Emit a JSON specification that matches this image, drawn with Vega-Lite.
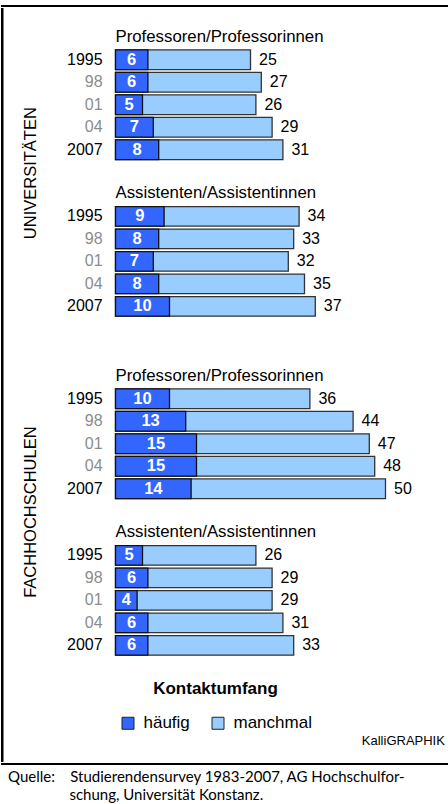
{
  "$schema": "https://vega.github.io/schema/vega-lite/v6.json",
  "padding": {"left": 0, "top": 4, "right": 0, "bottom": 0},
  "background": "white",
  "config": {
    "font": "Liberation Sans",
    "view": {"stroke": null},
    "title": {"fontWeight": "normal", "color": "black", "font": "Liberation Sans"},
    "legend": {
      "direction": "horizontal",
      "titleAnchor": "middle",
      "titleFontSize": 17,
      "titleFontWeight": "bold",
      "titleColor": "black",
      "titlePadding": 16.8,
      "labelFontSize": 17,
      "labelColor": "black",
      "labelOffset": 7,
      "columnPadding": 19,
      "symbolType": "square",
      "symbolSize": 144,
      "symbolStrokeColor": "#222222",
      "symbolStrokeWidth": 1
    }
  },
  "data": {
    "values": [
      {"hs": "Universitäten", "gruppe": "Professoren", "jahr": "1995", "haeufig": 6, "gesamt": 25},
      {"hs": "Universitäten", "gruppe": "Professoren", "jahr": "98", "haeufig": 6, "gesamt": 27},
      {"hs": "Universitäten", "gruppe": "Professoren", "jahr": "01", "haeufig": 5, "gesamt": 26},
      {"hs": "Universitäten", "gruppe": "Professoren", "jahr": "04", "haeufig": 7, "gesamt": 29},
      {"hs": "Universitäten", "gruppe": "Professoren", "jahr": "2007", "haeufig": 8, "gesamt": 31},
      {"hs": "Universitäten", "gruppe": "Assistenten", "jahr": "1995", "haeufig": 9, "gesamt": 34},
      {"hs": "Universitäten", "gruppe": "Assistenten", "jahr": "98", "haeufig": 8, "gesamt": 33},
      {"hs": "Universitäten", "gruppe": "Assistenten", "jahr": "01", "haeufig": 7, "gesamt": 32},
      {"hs": "Universitäten", "gruppe": "Assistenten", "jahr": "04", "haeufig": 8, "gesamt": 35},
      {"hs": "Universitäten", "gruppe": "Assistenten", "jahr": "2007", "haeufig": 10, "gesamt": 37},
      {"hs": "Fachhochschulen", "gruppe": "Professoren", "jahr": "1995", "haeufig": 10, "gesamt": 36},
      {"hs": "Fachhochschulen", "gruppe": "Professoren", "jahr": "98", "haeufig": 13, "gesamt": 44},
      {"hs": "Fachhochschulen", "gruppe": "Professoren", "jahr": "01", "haeufig": 15, "gesamt": 47},
      {"hs": "Fachhochschulen", "gruppe": "Professoren", "jahr": "04", "haeufig": 15, "gesamt": 48},
      {"hs": "Fachhochschulen", "gruppe": "Professoren", "jahr": "2007", "haeufig": 14, "gesamt": 50},
      {"hs": "Fachhochschulen", "gruppe": "Assistenten", "jahr": "1995", "haeufig": 5, "gesamt": 26},
      {"hs": "Fachhochschulen", "gruppe": "Assistenten", "jahr": "98", "haeufig": 6, "gesamt": 29},
      {"hs": "Fachhochschulen", "gruppe": "Assistenten", "jahr": "01", "haeufig": 4, "gesamt": 29},
      {"hs": "Fachhochschulen", "gruppe": "Assistenten", "jahr": "04", "haeufig": 6, "gesamt": 31},
      {"hs": "Fachhochschulen", "gruppe": "Assistenten", "jahr": "2007", "haeufig": 6, "gesamt": 33}
    ]
  },
  "title": {
    "text": ["Quelle:\u00a0\u00a0\u00a0\u00a0Studierendensurvey 1983-2007, AG Hochschulfor-", "\u200b\u00a0\u00a0\u00a0\u00a0\u00a0\u00a0\u00a0\u00a0\u00a0\u00a0\u00a0\u00a0\u00a0\u00a0\u00a0\u00a0schung, Universität Konstanz."],
    "orient": "bottom", "anchor": "start", "frame": "group", "font": "Lato", "fontSize": 15,
    "lineHeight": 18, "offset": 5, "dx": 7, "baseline": "top", "fontWeight": "normal", "color": "black"
  },
  "spacing": 0,
  "vconcat": [
    {
      "data": {"values": [{}]},
      "width": 448, "height": 2,
      "view": {"fill": "black", "stroke": null},
      "mark": {"type": "rule", "opacity": 0},
      "encoding": {}
    },
    {
      "spacing": 18.5,
      "hconcat": [
        {
          "data": {"values": [{}]},
          "width": 2.5, "height": 754,
          "view": {"fill": "black", "stroke": null},
          "mark": {"type": "rule", "opacity": 0},
          "encoding": {}
        },
        {
          "title": {"text": "KalliGRAPHIK", "orient": "bottom", "anchor": "end", "fontSize": 13, "offset": 78.6, "baseline": "top", "fontWeight": "normal"},
          "spacing": 19.5,
          "vconcat": [
            {
              "data": {"values": [{}]},
              "width": 1, "height": 1,
              "mark": {"type": "rule", "opacity": 0},
              "encoding": {}
            },
            {
              "spacing": 49,
              "vconcat": [
                {
                  "title": {"text": "UNIVERSITÄTEN", "orient": "left", "anchor": "middle", "offset": 27.5, "fontSize": 16.5, "fontWeight": "normal"},
                  "spacing": 23.6,
                  "vconcat": [
                    {
                      "title": {"text": "Professoren/Professorinnen", "anchor": "start", "frame": "group", "offset": 3, "fontSize": 16.8},
                      "width": 329.4, "height": 112.5,
                      "transform": [{"filter": "datum.hs === 'Universitäten' && datum.gruppe === 'Professoren'"}],
                      "encoding": {"y": {"field": "jahr", "type": "ordinal", "sort": ["1995", "98", "01", "04", "2007"], "scale": {"paddingInner": 0.13, "paddingOuter": 0.065},
                        "axis": {"title": null, "domain": false, "ticks": false, "labelFontSize": 16, "labelPadding": 13.4, "labelColor": {"condition": {"test": "datum.value === '1995' || datum.value === '2007'", "value": "#000000"}, "value": "#8c8c8c"}}}},
                      "layer": [
                        {"mark": {"type": "bar", "stroke": "#333333", "strokeWidth": 1.3},
                         "encoding": {"x": {"field": "gesamt", "type": "quantitative", "scale": {"domain": [0, 61], "nice": false}, "axis": null},
                           "color": {"datum": "manchmal", "type": "nominal", "scale": {"domain": ["häufig", "manchmal"], "range": ["#3366FF", "#99CCFF"]}, "legend": {"orient": "none", "legendX": 118.5, "legendY": 675.7, "title": "Kontaktumfang"}}}},
                        {"mark": {"type": "bar", "stroke": "#111111", "strokeWidth": 1.3},
                         "encoding": {"x": {"field": "haeufig", "type": "quantitative", "scale": {"domain": [0, 61], "nice": false}, "axis": null},
                           "color": {"datum": "häufig", "type": "nominal", "legend": {"orient": "none", "legendX": 118.5, "legendY": 675.7, "title": "Kontaktumfang"}}}},
                        {"mark": {"type": "text", "align": "left", "baseline": "middle", "dx": 8.5, "fontSize": 16, "color": "black"},
                         "encoding": {"x": {"field": "gesamt", "type": "quantitative", "scale": {"domain": [0, 61], "nice": false}, "axis": null}, "text": {"field": "gesamt"}}},
                        {"mark": {"type": "text", "align": "center", "baseline": "middle", "fontSize": 16.5, "fontWeight": "bold", "color": "white"},
                         "encoding": {"x": {"field": "haeufig", "type": "quantitative", "scale": {"domain": [0, 122], "nice": false}, "axis": null}, "text": {"field": "haeufig"}}}
                      ],
                      "resolve": {"scale": {"x": "independent"}}
                    },
                    {
                      "title": {"text": "Assistenten/Assistentinnen", "anchor": "start", "frame": "group", "offset": 3, "fontSize": 16.8},
                      "width": 329.4, "height": 112.5,
                      "transform": [{"filter": "datum.hs === 'Universitäten' && datum.gruppe === 'Assistenten'"}],
                      "encoding": {"y": {"field": "jahr", "type": "ordinal", "sort": ["1995", "98", "01", "04", "2007"], "scale": {"paddingInner": 0.13, "paddingOuter": 0.065},
                        "axis": {"title": null, "domain": false, "ticks": false, "labelFontSize": 16, "labelPadding": 13.4, "labelColor": {"condition": {"test": "datum.value === '1995' || datum.value === '2007'", "value": "#000000"}, "value": "#8c8c8c"}}}},
                      "layer": [
                        {"mark": {"type": "bar", "stroke": "#333333", "strokeWidth": 1.3},
                         "encoding": {"x": {"field": "gesamt", "type": "quantitative", "scale": {"domain": [0, 61], "nice": false}, "axis": null},
                           "color": {"datum": "manchmal", "type": "nominal", "legend": {"orient": "none", "legendX": 118.5, "legendY": 675.7, "title": "Kontaktumfang"}}}},
                        {"mark": {"type": "bar", "stroke": "#111111", "strokeWidth": 1.3},
                         "encoding": {"x": {"field": "haeufig", "type": "quantitative", "scale": {"domain": [0, 61], "nice": false}, "axis": null},
                           "color": {"datum": "häufig", "type": "nominal", "legend": {"orient": "none", "legendX": 118.5, "legendY": 675.7, "title": "Kontaktumfang"}}}},
                        {"mark": {"type": "text", "align": "left", "baseline": "middle", "dx": 8.5, "fontSize": 16, "color": "black"},
                         "encoding": {"x": {"field": "gesamt", "type": "quantitative", "scale": {"domain": [0, 61], "nice": false}, "axis": null}, "text": {"field": "gesamt"}}},
                        {"mark": {"type": "text", "align": "center", "baseline": "middle", "fontSize": 16.5, "fontWeight": "bold", "color": "white"},
                         "encoding": {"x": {"field": "haeufig", "type": "quantitative", "scale": {"domain": [0, 122], "nice": false}, "axis": null}, "text": {"field": "haeufig"}}}
                      ],
                      "resolve": {"scale": {"x": "independent"}}
                    }
                  ]
                },
                {
                  "title": {"text": "FACHHOCHSCHULEN", "orient": "left", "anchor": "middle", "offset": 27.5, "fontSize": 16.5, "fontWeight": "normal"},
                  "spacing": 23.6,
                  "vconcat": [
                    {
                      "title": {"text": "Professoren/Professorinnen", "anchor": "start", "frame": "group", "offset": 3, "fontSize": 16.8},
                      "width": 329.4, "height": 112.5,
                      "transform": [{"filter": "datum.hs === 'Fachhochschulen' && datum.gruppe === 'Professoren'"}],
                      "encoding": {"y": {"field": "jahr", "type": "ordinal", "sort": ["1995", "98", "01", "04", "2007"], "scale": {"paddingInner": 0.13, "paddingOuter": 0.065},
                        "axis": {"title": null, "domain": false, "ticks": false, "labelFontSize": 16, "labelPadding": 13.4, "labelColor": {"condition": {"test": "datum.value === '1995' || datum.value === '2007'", "value": "#000000"}, "value": "#8c8c8c"}}}},
                      "layer": [
                        {"mark": {"type": "bar", "stroke": "#333333", "strokeWidth": 1.3},
                         "encoding": {"x": {"field": "gesamt", "type": "quantitative", "scale": {"domain": [0, 61], "nice": false}, "axis": null},
                           "color": {"datum": "manchmal", "type": "nominal", "legend": {"orient": "none", "legendX": 118.5, "legendY": 675.7, "title": "Kontaktumfang"}}}},
                        {"mark": {"type": "bar", "stroke": "#111111", "strokeWidth": 1.3},
                         "encoding": {"x": {"field": "haeufig", "type": "quantitative", "scale": {"domain": [0, 61], "nice": false}, "axis": null},
                           "color": {"datum": "häufig", "type": "nominal", "legend": {"orient": "none", "legendX": 118.5, "legendY": 675.7, "title": "Kontaktumfang"}}}},
                        {"mark": {"type": "text", "align": "left", "baseline": "middle", "dx": 8.5, "fontSize": 16, "color": "black"},
                         "encoding": {"x": {"field": "gesamt", "type": "quantitative", "scale": {"domain": [0, 61], "nice": false}, "axis": null}, "text": {"field": "gesamt"}}},
                        {"mark": {"type": "text", "align": "center", "baseline": "middle", "fontSize": 16.5, "fontWeight": "bold", "color": "white"},
                         "encoding": {"x": {"field": "haeufig", "type": "quantitative", "scale": {"domain": [0, 122], "nice": false}, "axis": null}, "text": {"field": "haeufig"}}}
                      ],
                      "resolve": {"scale": {"x": "independent"}}
                    },
                    {
                      "title": {"text": "Assistenten/Assistentinnen", "anchor": "start", "frame": "group", "offset": 3, "fontSize": 16.8},
                      "width": 329.4, "height": 112.5,
                      "transform": [{"filter": "datum.hs === 'Fachhochschulen' && datum.gruppe === 'Assistenten'"}],
                      "encoding": {"y": {"field": "jahr", "type": "ordinal", "sort": ["1995", "98", "01", "04", "2007"], "scale": {"paddingInner": 0.13, "paddingOuter": 0.065},
                        "axis": {"title": null, "domain": false, "ticks": false, "labelFontSize": 16, "labelPadding": 13.4, "labelColor": {"condition": {"test": "datum.value === '1995' || datum.value === '2007'", "value": "#000000"}, "value": "#8c8c8c"}}}},
                      "layer": [
                        {"mark": {"type": "bar", "stroke": "#333333", "strokeWidth": 1.3},
                         "encoding": {"x": {"field": "gesamt", "type": "quantitative", "scale": {"domain": [0, 61], "nice": false}, "axis": null},
                           "color": {"datum": "manchmal", "type": "nominal", "legend": {"orient": "none", "legendX": 118.5, "legendY": 675.7, "title": "Kontaktumfang"}}}},
                        {"mark": {"type": "bar", "stroke": "#111111", "strokeWidth": 1.3},
                         "encoding": {"x": {"field": "haeufig", "type": "quantitative", "scale": {"domain": [0, 61], "nice": false}, "axis": null},
                           "color": {"datum": "häufig", "type": "nominal", "legend": {"orient": "none", "legendX": 118.5, "legendY": 675.7, "title": "Kontaktumfang"}}}},
                        {"mark": {"type": "text", "align": "left", "baseline": "middle", "dx": 8.5, "fontSize": 16, "color": "black"},
                         "encoding": {"x": {"field": "gesamt", "type": "quantitative", "scale": {"domain": [0, 61], "nice": false}, "axis": null}, "text": {"field": "gesamt"}}},
                        {"mark": {"type": "text", "align": "center", "baseline": "middle", "fontSize": 16.5, "fontWeight": "bold", "color": "white"},
                         "encoding": {"x": {"field": "haeufig", "type": "quantitative", "scale": {"domain": [0, 122], "nice": false}, "axis": null}, "text": {"field": "haeufig"}}}
                      ],
                      "resolve": {"scale": {"x": "independent"}}
                    }
                  ]
                }
              ]
            }
          ]
        }
      ]
    },
    {
      "data": {"values": [{}]},
      "width": 448, "height": 2,
      "view": {"fill": "black", "stroke": null},
      "mark": {"type": "rule", "opacity": 0},
      "encoding": {}
    }
  ]
}
